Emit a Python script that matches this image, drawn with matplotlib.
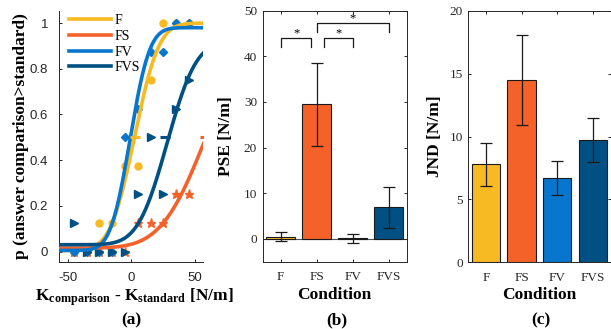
import math

import numpy as np
import matplotlib

matplotlib.use("Agg")
import matplotlib.pyplot as plt

CONDITIONS = ["F", "FS", "FV", "FVS"]
COLORS = ["#F8BA23", "#F4622A", "#0876CC", "#005083"]
MARKERS = ["o", "*", "D", ">"]
MARKER_SIZES = [5, 6.5, 4, 5.5]

# (a) example subject: proportion of "comparison > standard" answers
stim_diff = [-45, -35, -25, -15, -5, 5, 15, 25, 35, 45]
p_F = [0, 0, 0.125, 0.125, 0.375, 0.375, 0.75, 1, 1, 1]
p_FS = [0, 0, 0, 0, 0, 0.125, 0.125, 0.125, 0.25, 0.25]
p_FV = [0, 0, 0, 0, 0.5, 0.625, 0.875, 0.875, 1, 1]
p_FVS = [0.125, 0, 0, 0, 0, 0.25, 0.5, 0.25, 0.625, 0.75]

# fitted psychometric functions: mean, sd, lower and upper asymptote
fit_mu = [2.5, 59, -1, 28]
fit_sigma = [15, 28, 12, 18]
fit_low = [0.005, 0.015, 0.005, 0.03]
fit_high = [1.0, 1.0, 0.98, 0.92]
pse_mark = [3, 57.5, 0.5, 26]

# (b), (c) group means with error bars
pse_mean = [0.5, 29.5, 0.1, 6.9]
pse_err = [0.95, 9.1, 1.0, 4.45]
jnd_mean = [7.8, 14.5, 6.7, 9.75]
jnd_err = [1.7, 3.6, 1.35, 1.75]

# significance brackets in (b): from, to, height
sig_pairs = [(1.02, 1.83, 44.0), (2.21, 3.0, 44.0), (2.0, 4.0, 47.3)]

DARK = "#262626"
SERIF = "Liberation Serif"
SANS = "Liberation Sans"

plt.rcParams.update({
    "font.family": SERIF,
    "font.size": 9.5,
    "axes.unicode_minus": False,
    "mathtext.fontset": "custom",
    "mathtext.rm": SERIF,
    "mathtext.bf": SERIF + ":bold",
    "mathtext.it": SERIF + ":italic",
    "axes.edgecolor": DARK,
    "axes.linewidth": 0.7,
    "xtick.color": DARK,
    "ytick.color": DARK,
})


def psychometric(x, mu, sigma, low, high):
    z = (x - mu) / (sigma * math.sqrt(2))
    cdf = 0.5 * (1 + np.array([math.erf(v) for v in z]))
    return low + (high - low) * cdf


fig = plt.figure(figsize=(6.11, 3.29), dpi=100)

# ---- (a) psychometric curves
ax = fig.add_axes([0.097, 0.204, 0.236, 0.764])
xlim = (-56.5, 56.5)
xs = np.linspace(xlim[0], xlim[1], 400)
responses = [p_F, p_FS, p_FV, p_FVS]
for i, name in enumerate(CONDITIONS):
    ax.plot(stim_diff, responses[i], linestyle="none", marker=MARKERS[i],
            ms=MARKER_SIZES[i], color=COLORS[i], mec=COLORS[i], zorder=2)
for i, name in enumerate(CONDITIONS):
    ax.plot(xs, psychometric(xs, fit_mu[i], fit_sigma[i], fit_low[i], fit_high[i]),
            color=COLORS[i], lw=2.6, label=name, zorder=3)
for i in [2, 1, 3, 0]:
    ax.plot([pse_mark[i]], [0.5], marker="_", ms=7, mew=2.2, color=COLORS[i], zorder=4)

ax.set_xlim(*xlim)
ax.set_ylim(-0.045, 1.055)
ax.set_xticks([-50, 0, 50])
ax.set_yticks([0, 0.2, 0.4, 0.6, 0.8, 1])
ax.set_yticklabels([f"{v:g}" for v in [0, 0.2, 0.4, 0.6, 0.8, 1]])
for lab in ax.get_xticklabels() + ax.get_yticklabels():
    lab.set_fontfamily(SANS)
ax.spines["top"].set_visible(False)
ax.spines["right"].set_visible(False)
ax.tick_params(direction="in", length=2.5, width=0.7)
ax.tick_params(axis="y", pad=8)
ax.tick_params(axis="x", pad=7)
ax.set_ylabel("p (answer comparison>standard)", fontsize=12.5, fontweight="bold")
ax.yaxis.set_label_coords(-0.21, 0.5)
ax.set_xlabel(r"$\mathbf{K_{comparison}}$ - $\mathbf{K_{standard}}$ [N/m]",
              fontsize=12.5, fontweight="bold")
ax.xaxis.set_label_coords(0.52, -0.097)
ax.legend(loc="upper left", bbox_to_anchor=(0.0, 1.025), frameon=False, fontsize=10,
          handlelength=3.0, handletextpad=0.3, labelspacing=0.2, borderaxespad=0.3)


def bar_panel(rect, means, errs, ylim, yticks, ylabel, label_x):
    bx = fig.add_axes(rect)
    pos = np.arange(1, len(CONDITIONS) + 1)
    bx.bar(pos, means, width=0.8, color=COLORS, edgecolor="#1a1a1a", linewidth=0.8,
           zorder=2)
    bx.errorbar(pos, means, yerr=errs, fmt="none", ecolor="#1a1a1a", elinewidth=0.9,
                capsize=4, capthick=0.9, zorder=3)
    bx.set_xlim(0.5, 4.5)
    bx.set_ylim(*ylim)
    bx.set_xticks(pos)
    bx.set_xticklabels(CONDITIONS)
    bx.set_yticks(yticks)
    bx.tick_params(direction="in", length=2.5, width=0.7, top=True, right=True)
    bx.tick_params(axis="y", pad=4)
    bx.tick_params(axis="x", pad=7)
    bx.set_ylabel(ylabel, fontsize=12.5, fontweight="bold")
    bx.yaxis.set_label_coords(label_x, 0.5)
    bx.set_xlabel("Condition", fontsize=12.5, fontweight="bold")
    bx.xaxis.set_label_coords(0.5, -0.1)
    return bx


# ---- (b) PSE
bx = bar_panel([0.430, 0.2046, 0.2357, 0.763], pse_mean, pse_err, (-5, 50),
               [0, 10, 20, 30, 40, 50], "PSE [N/m]", -0.2)
bx.axhline(0, color="#555555", lw=0.8, zorder=1)
for x1, x2, h in sig_pairs:
    bx.plot([x1, x1, x2, x2], [h - 2.0, h, h, h - 2.0], color="#1a1a1a", lw=0.9)
    bx.text((x1 + x2) / 2, h + 1.0, "*", ha="center", va="center", fontsize=9)

# ---- (c) JND
cx = bar_panel([0.7665, 0.2027, 0.2327, 0.7647], jnd_mean, jnd_err, (0, 20),
               [0, 5, 10, 15, 20], "JND [N/m]", -0.175)

for x, s in [(0.2145, "(a)"), (0.551, "(b)"), (0.886, "(c)")]:
    fig.text(x, 0.027, s, ha="center", va="center", fontsize=12.5, fontweight="bold")

fig.savefig("out.png", dpi=100)
plt.close(fig)
